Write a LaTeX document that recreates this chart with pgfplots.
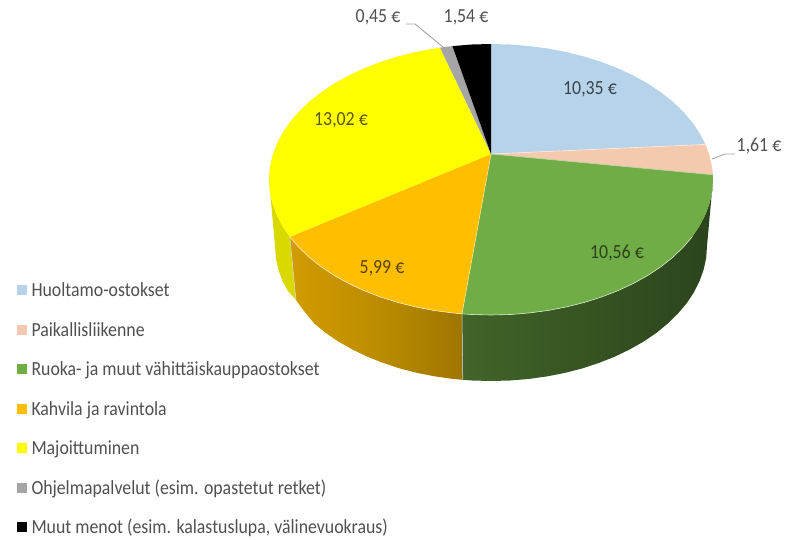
\documentclass[border=0pt]{standalone}
\usepackage{fontspec}
\setmainfont[FakeStretch=0.89]{Carlito}
\usepackage{pgfplots}
\pgfplotsset{compat=1.18}
\definecolor{cBlue}{HTML}{B7D3EA}
\definecolor{cPeach}{HTML}{F4C9AE}
\definecolor{cGreen}{HTML}{70AD47}
\definecolor{cOrange}{HTML}{FFBE00}
\definecolor{cYellow}{HTML}{FFFF00}
\definecolor{cGray}{HTML}{A5A5A5}
\definecolor{cTxt}{HTML}{505050}
\begin{document}
\begin{tikzpicture}
\path[use as bounding box] (0,0) rectangle (794pt,539pt);
\begin{axis}[
  at={(0,0)},anchor=south west,
  scale only axis,width=794pt,height=539pt,
  xmin=0,xmax=794,ymin=0,ymax=539,y dir=reverse,
  hide axis,clip=false,
  legend cell align=left,
  legend image code/.code={\fill[#1] (0pt,-2.5pt) rectangle (10pt,7.5pt);\path (14.5pt,0pt);},
  legend style={at={(axis cs:17,285)},anchor=north west,draw=none,fill=none,
    font=\fontsize{20}{22}\selectfont\color{cTxt},row sep=23.6pt,inner sep=0pt,outer sep=0pt,
    nodes={inner sep=0pt,text height=11.9pt,text depth=4pt}},
]
% --- sides of the pie
\addplot[forget plot,draw=none,fill=cYellow!85!black] coordinates {
 (289.8,236.8)(282.4,225.8)(276.6,214.6)(272.4,203)(269.8,191.3)(269,179.5)
 (275,246)(275.8,257.8)(278.3,269.4)(282.4,280.9)(288,291)(296,300)} -- cycle;
\addplot[forget plot,draw=none,left color=cOrange!82!black,right color=cOrange!62!black,middle color=cOrange!74!black] coordinates {
 (462,313.8)(452.5,312.9)(433.5,310.4)(415.1,306.8)(397.2,302.3)(380,296.8)(363.7,290.5)(348.3,283.3)(334,275.3)(320.9,266.6)(309.1,257.2)(298.7,247.2)(289.8,236.8)
 (296,300)(304,311)(314.1,323.4)(325.5,332.8)(338.3,341.5)(352.2,349.4)(367.1,356.6)(383,362.9)(399.7,368.4)(417.1,372.9)(435.1,376.4)(453.5,379)(462.8,379.8)} -- cycle;
\addplot[forget plot,draw=none,left color=cGreen!58!black,middle color=cGreen!41!black,right color=cGreen!39!black] coordinates {
 (713,179.5)(712.2,191.3)(709.6,203)(705.4,214.6)(699.6,225.8)(692.2,236.8)(683.3,247.2)(672.9,257.2)(661.1,266.6)(648,275.3)(633.7,283.3)(618.3,290.5)(602,296.8)(584.8,302.3)(566.9,306.8)(548.5,310.4)(529.5,312.9)(510.4,314.5)(491,315)(471.6,314.5)(462,313.8)
 (462.8,379.8)(472.2,380.5)(491,381)(509.8,380.5)(528.5,379)(546.9,376.4)(564.9,372.9)(582.3,368.4)(599,362.9)(614.9,356.6)(629.8,349.4)(643.7,341.5)(656.5,332.8)(667.9,323.4)(678,313.5)(686.8,303.1)(694,292.2)(699.6,280.9)(703.7,269.4)(706.2,257.8)(707,246)} -- cycle;
\addplot[forget plot,draw=white!80!gray,line width=0.5pt] coordinates {(462,313.8)(462.8,379.8)};
\addplot[forget plot,draw=white!70!gray,line width=0.5pt] coordinates {(289.8,236.8)(296,300)};
% --- top slices (values 10,35 / 1,61 / 10,56 / 5,99 / 13,02 / 0,45 / 1,54)
\addplot[fill=cBlue,draw=none] coordinates {
 (491,154)(491,44)(510.4,44.5)(529.5,46.1)(548.5,48.6)(566.9,52.2)(584.8,56.7)(602,62.2)(618.3,68.5)(633.7,75.7)(648,83.7)(661.1,92.4)(672.9,101.8)(683.3,111.8)(692.2,122.2)(699.6,133.2)(705.4,144.4)} -- cycle;
\addlegendentry{Huoltamo-ostokset}
\addplot[fill=cPeach,draw=none] coordinates {
 (491,154)(705.4,144.4)(709.6,156)(712.2,167.7)(712.9,174.8)} -- cycle;
\addlegendentry{Paikallisliikenne}
\addplot[fill=cGreen,draw=none] coordinates {
 (491,154)(712.9,174.8)(713,179.5)(712.2,191.3)(709.6,203)(705.4,214.6)(699.6,225.8)(692.2,236.8)(683.3,247.2)(672.9,257.2)(661.1,266.6)(648,275.3)(633.7,283.3)(618.3,290.5)(602,296.8)(584.8,302.3)(566.9,306.8)(548.5,310.4)(529.5,312.9)(510.4,314.5)(491,315)(471.6,314.5)(462,313.8)} -- cycle;
\addlegendentry{Ruoka- ja muut vähittäiskauppaostokset}
\addplot[fill=cOrange,draw=none] coordinates {
 (491,154)(462,313.8)(452.5,312.9)(433.5,310.4)(415.1,306.8)(397.2,302.3)(380,296.8)(363.7,290.5)(348.3,283.3)(334,275.3)(320.9,266.6)(309.1,257.2)(298.7,247.2)(289.8,236.8)} -- cycle;
\addlegendentry{Kahvila ja ravintola}
\addplot[fill=cYellow,draw=none] coordinates {
 (491,154)(289.8,236.8)(282.4,225.8)(276.6,214.6)(272.4,203)(269.8,191.3)(269,179.5)(269.8,167.7)(272.4,156)(276.6,144.4)(282.4,133.2)(289.8,122.2)(298.7,111.8)(309.1,101.8)(320.9,92.4)(334,83.7)(348.3,75.7)(363.7,68.5)(380,62.2)(397.2,56.7)(415.1,52.2)(433.5,48.6)(440,47.6)} -- cycle;
\addlegendentry{Majoittuminen}
\addplot[fill=cGray,draw=none] coordinates {
 (491,154)(440,47.6)(452.4,46.1)} -- cycle;
\addlegendentry{Ohjelmapalvelut (esim. opastetut retket)}
\addplot[fill=black,draw=none] coordinates {
 (491,154)(452.4,46.1)(471.6,44.5)(491,44)} -- cycle;
\addlegendentry{Muut menot (esim. kalastuslupa, välinevuokraus)}
% --- pale seams on the top
\addplot[forget plot,draw=white!65!cPeach,line width=0.6pt] coordinates {(491,154)(705.4,144.4)};
\addplot[forget plot,draw=white!50!cGreen,line width=0.6pt] coordinates {(491,154)(712.9,174.8)};
\addplot[forget plot,draw=white!50!cOrange,line width=0.6pt] coordinates {(491,154)(462,313.8)};
\addplot[forget plot,draw=white!70!cOrange,line width=0.6pt] coordinates {(462,313.8)(452.5,312.9)(433.5,310.4)(415.1,306.8)(397.2,302.3)(380,296.8)(363.7,290.5)(348.3,283.3)(334,275.3)(320.9,266.6)(309.1,257.2)(298.7,247.2)(289.8,236.8)};
\addplot[forget plot,draw=white!70!cGreen,line width=0.6pt] coordinates {(692.2,236.8)(683.3,247.2)(672.9,257.2)(661.1,266.6)(648,275.3)(633.7,283.3)(618.3,290.5)(602,296.8)(584.8,302.3)(566.9,306.8)(548.5,310.4)(529.5,312.9)(510.4,314.5)(491,315)(471.6,314.5)(462,313.8)};
% --- leader lines
\addplot[forget plot,draw=cGray,line width=0.9pt] coordinates {(406,24)(415,24)(443,47)};
\addplot[forget plot,draw=cGray,line width=0.9pt] coordinates {(712,159)(725,154)(735,154)};
% --- value labels
\begin{scope}[every node/.style={font=\fontsize{20}{22}\selectfont,inner sep=0pt}]
\node[text=cTxt] at (axis cs:378,17) {0,45 €};
\node[text=cTxt] at (axis cs:466,17) {1,54 €};
\node[text=cTxt] at (axis cs:759,146) {1,61 €};
\node[text=black!68!cBlue] at (axis cs:590,89) {10,35 €};
\node[text=black!62!cGreen] at (axis cs:617,253) {10,56 €};
\node[text=black!65!cOrange] at (axis cs:382,268) {5,99 €};
\node[text=black!65!cYellow] at (axis cs:341,120) {13,02 €};
\end{scope}
\end{axis}
\end{tikzpicture}
\end{document}
